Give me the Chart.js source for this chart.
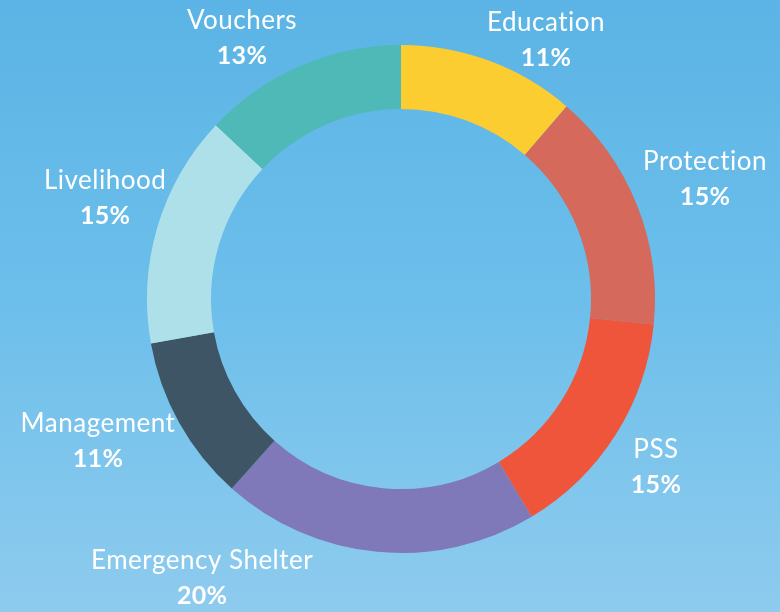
<!DOCTYPE html>
<html>
<head>
<meta charset="utf-8">
<script src="https://cdn.jsdelivr.net/npm/chart.js@4.4.1/dist/chart.umd.min.js"></script>
<style>
  html, body { margin: 0; padding: 0; }
  body { width: 780px; height: 612px; overflow: hidden; }
  #wrap { width: 780px; height: 612px; position: relative; }
</style>
</head>
<body>
<div id="wrap"><canvas id="c" width="780" height="612"></canvas></div>
<script>
const categories = ["Education", "Protection", "PSS", "Emergency Shelter", "Management", "Livelihood", "Vouchers"];
const shares = [11.3, 15.3, 14.8, 20.2, 10.6, 14.8, 13.0];
const colors = ["#FCCD31", "#D4695C", "#EF553A", "#7F78B9", "#3E5565", "#AEE0EA", "#4FB9B8"];
// label anchor offsets from chart centre, in units of outer radius
const labelOffsetX = [0.571, 1.197, 1.004, -0.783, -1.193, -1.165, -0.626];
const labelOffsetY = [-1.020, -0.476, 0.661, 1.098, 0.559, -0.398, -1.028];

const bgPlugin = {
  id: 'bg',
  beforeDraw(chart) {
    const ctx = chart.ctx;
    const g = ctx.createLinearGradient(0, 0, 0, chart.height);
    g.addColorStop(0, '#5BB4E5');
    g.addColorStop(0.5, '#6DBFEB');
    g.addColorStop(1, '#8ECBEE');
    ctx.save();
    ctx.fillStyle = g;
    ctx.fillRect(0, 0, chart.width, chart.height);
    ctx.restore();
  }
};

const labelPlugin = {
  id: 'labels',
  afterDatasetsDraw(chart) {
    const ctx = chart.ctx;
    const meta = chart.getDatasetMeta(0);
    const total = shares.reduce((a, b) => a + b, 0);
    ctx.save();
    ctx.fillStyle = '#FFFFFF';
    ctx.textAlign = 'center';
    ctx.textBaseline = 'alphabetic';
    meta.data.forEach((arc, i) => {
      const p = arc.getProps(['x', 'y', 'outerRadius'], true);
      const x = p.x + labelOffsetX[i] * p.outerRadius;
      const y = p.y + labelOffsetY[i] * p.outerRadius;
      ctx.font = '400 26px Lato';
      ctx.letterSpacing = '0.5px';
      ctx.fillText(categories[i], x, y - 8.5);
      ctx.font = '700 25px Lato';
      ctx.letterSpacing = '0.3px';
      ctx.fillText(Math.round(shares[i] / total * 100) + '%', x, y + 26.5);
    });
    ctx.restore();
  }
};

new Chart(document.getElementById('c'), {
  type: 'doughnut',
  data: {
    labels: categories,
    datasets: [{
      data: shares,
      backgroundColor: colors,
      borderWidth: 0
    }]
  },
  options: {
    responsive: false,
    animation: false,
    events: [],
    cutout: '74.8%',
    layout: { padding: { top: 45, bottom: 59, left: 147, right: 125 } },
    plugins: {
      legend: { display: false },
      tooltip: { enabled: false }
    }
  },
  plugins: [bgPlugin, labelPlugin]
});
</script>
</body>
</html>
